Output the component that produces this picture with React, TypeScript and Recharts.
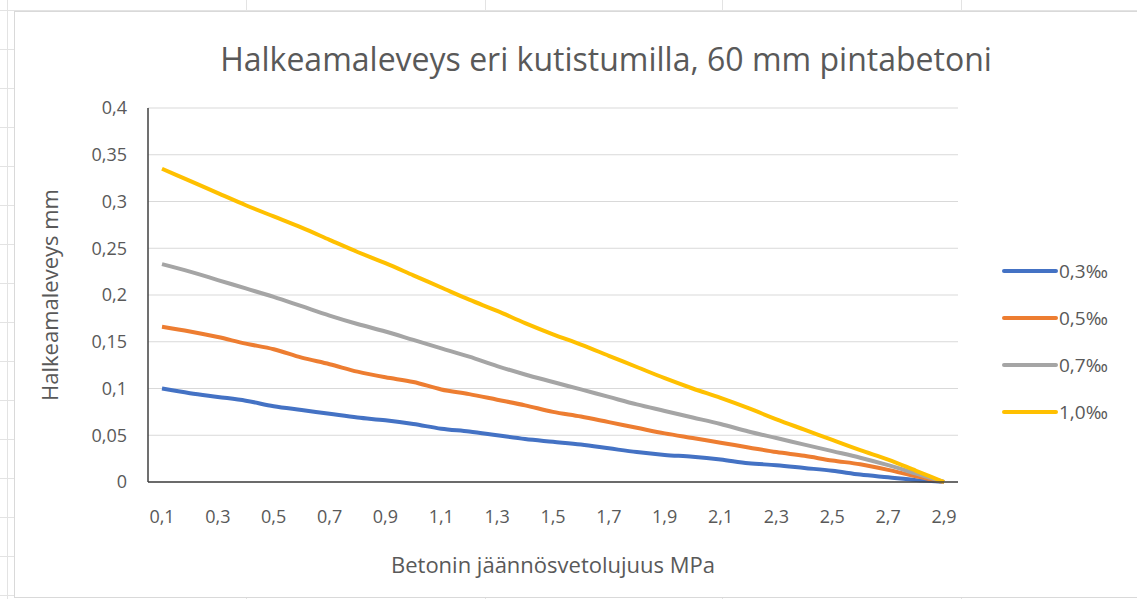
import React from 'react';
import { LineChart, Line, XAxis, YAxis, CartesianGrid, Legend, Label } from 'recharts';

const categories = ['0,1','0,2','0,3','0,4','0,5','0,6','0,7','0,8','0,9','1','1,1','1,2','1,3','1,4','1,5','1,6','1,7','1,8','1,9','2','2,1','2,2','2,3','2,4','2,5','2,6','2,7','2,8','2,9'];
const s03 = [0.100,0.095,0.091,0.087,0.081,0.077,0.073,0.069,0.066,0.062,0.057,0.054,0.050,0.046,0.043,0.040,0.036,0.032,0.029,0.027,0.024,0.020,0.018,0.015,0.012,0.008,0.005,0.002,0];
const s05 = [0.166,0.161,0.155,0.148,0.142,0.133,0.126,0.118,0.112,0.107,0.099,0.094,0.088,0.082,0.075,0.070,0.064,0.058,0.052,0.047,0.042,0.037,0.032,0.028,0.023,0.019,0.013,0.006,0];
const s07 = [0.233,0.225,0.216,0.207,0.198,0.188,0.178,0.169,0.161,0.152,0.143,0.134,0.124,0.115,0.107,0.099,0.091,0.083,0.076,0.069,0.062,0.054,0.047,0.040,0.033,0.026,0.018,0.009,0];
const s10 = [0.335,0.322,0.309,0.296,0.284,0.272,0.259,0.246,0.234,0.221,0.208,0.195,0.183,0.170,0.158,0.147,0.135,0.123,0.111,0.100,0.090,0.079,0.067,0.056,0.045,0.034,0.024,0.012,0];
const yTicks = [0, 0.05, 0.1, 0.15, 0.2, 0.25, 0.3, 0.35, 0.4];
const seriesNames = ['0,3‰', '0,5‰', '0,7‰', '1,0‰'];
const seriesColors = ['#4472C4', '#ED7D31', '#A5A5A5', '#FFC000'];

const data = categories.map((c, i) => ({ x: c, a: s03[i], b: s05[i], c: s07[i], d: s10[i] }));

const FONT = '"Open Sans", Lato, sans-serif';
const TEXT = '#595959';

const fmt = (v: number) => String(Math.round(v * 1000) / 1000).replace('.', ',');

const XTick = (props: any) => {
  const { x, y, payload } = props;
  return (
    <text x={x} y={y + 35} dy="0.35em" textAnchor="middle" fill={TEXT} fontSize={18} fontFamily={FONT}>
      {payload.value}
    </text>
  );
};

const YTick = (props: any) => {
  const { x, y, payload } = props;
  return (
    <text x={x - 21} y={y} dy="0.35em" textAnchor="end" fill={TEXT} fontSize={18} fontFamily={FONT}>
      {fmt(payload.value)}
    </text>
  );
};

const renderLegend = (props: any) => {
  const { payload } = props;
  return (
    <div style={{ fontFamily: FONT }}>
      {payload.map((e: any, i: number) => (
        <div key={i} style={{ display: 'flex', alignItems: 'center', height: 47 }}>
          <svg width={56} height={6}>
            <line x1={2} y1={3} x2={54} y2={3} stroke={e.color} strokeWidth={4} strokeLinecap="round" />
          </svg>
          <span style={{ marginLeft: 1, fontSize: 19, color: TEXT }}>{e.value}</span>
        </div>
      ))}
    </div>
  );
};

const YLabel = (props: any) => {
  const { viewBox } = props;
  const cx = viewBox.x - 18;
  const cy = viewBox.y + viewBox.height / 2;
  return (
    <text x={cx} y={cy} transform={`rotate(-90 ${cx} ${cy})`} textAnchor="middle" dy="0.35em" fill={TEXT} fontSize={22} fontFamily={FONT}>
      Halkeamaleveys mm
    </text>
  );
};

const XLabel = (props: any) => {
  const { viewBox } = props;
  const cx = viewBox.x + viewBox.width / 2;
  const cy = viewBox.y + 83;
  return (
    <text x={cx} y={cy} textAnchor="middle" dy="0.35em" fill={TEXT} fontSize={22} fontFamily={FONT}>
      Betonin jäännösvetolujuus MPa
    </text>
  );
};

const cellLine = '#e3e3e3';

export default function App() {
  const cols = [7, 246, 485, 722, 961];
  const rows = [10, 49, 88, 127, 166, 205, 244, 283, 322, 361, 400, 439, 478, 517, 556, 595];
  return (
    <div style={{ position: 'absolute', left: 0, top: 0, width: 1137, height: 599, background: '#fff', overflow: 'hidden' }}>
      {cols.map((c) => (
        <div key={'c' + c} style={{ position: 'absolute', left: c, top: 0, width: 1, height: 599, background: cellLine }} />
      ))}
      {rows.map((r) => (
        <div key={'r' + r} style={{ position: 'absolute', left: 0, top: r, width: 1137, height: 1, background: cellLine }} />
      ))}
      <div style={{ position: 'absolute', left: 14, top: 11, width: 1130, height: 585, background: '#fff', border: '1px solid #d9d9d9' }}>
        <div style={{ position: 'absolute', left: 591, top: 46, transform: 'translate(-50%, -50%)', whiteSpace: 'nowrap', fontFamily: FONT, fontSize: 32, color: TEXT }}>
          Halkeamaleveys eri kutistumilla, 60 mm pintabetoni
        </div>
        <LineChart width={1116} height={583} data={data} margin={{ top: 96, right: 43, bottom: 43, left: 53 }}>
          <CartesianGrid vertical={false} stroke="#d9d9d9" strokeWidth={1} />
          <XAxis dataKey="x" interval={1} padding={{ left: 14, right: 14 }} tickLine={false} tickSize={0} tickMargin={0} height={70} stroke="#404040" strokeWidth={1.5} tick={<XTick />}>
            <Label content={<XLabel />} />
          </XAxis>
          <YAxis domain={[0, 0.4]} ticks={yTicks} tickLine={false} tickSize={0} tickMargin={0} width={80} stroke="#404040" strokeWidth={1.5} tick={<YTick />}>
            <Label content={<YLabel />} />
          </YAxis>
          <Legend content={renderLegend} layout="vertical" verticalAlign="top" align="right" wrapperStyle={{ left: 987, top: 235, width: 130 }} />
          <Line type="monotone" dataKey="a" name={seriesNames[0]} stroke={seriesColors[0]} strokeWidth={4} dot={false} isAnimationActive={false} />
          <Line type="monotone" dataKey="b" name={seriesNames[1]} stroke={seriesColors[1]} strokeWidth={4} dot={false} isAnimationActive={false} />
          <Line type="monotone" dataKey="c" name={seriesNames[2]} stroke={seriesColors[2]} strokeWidth={4} dot={false} isAnimationActive={false} />
          <Line type="monotone" dataKey="d" name={seriesNames[3]} stroke={seriesColors[3]} strokeWidth={4} dot={false} isAnimationActive={false} />
        </LineChart>
      </div>
    </div>
  );
}
